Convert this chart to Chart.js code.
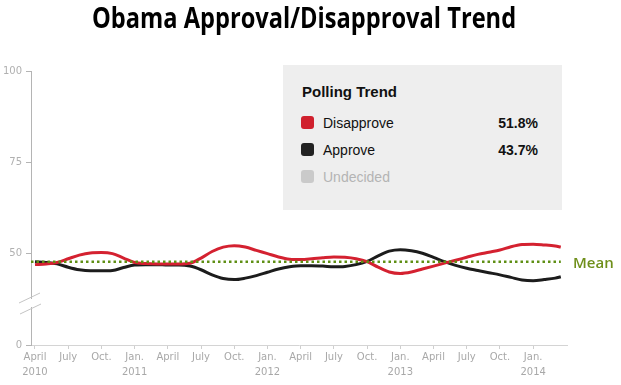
<!DOCTYPE html>
<html>
<head>
<meta charset="utf-8">
<script src="https://cdn.jsdelivr.net/npm/chart.js@4.4.1/dist/chart.umd.min.js"></script>
<style>
  html, body { margin: 0; padding: 0; background: #fff; }
  #wrap { position: relative; width: 621px; height: 385px; overflow: hidden; }
  #chart { position: absolute; left: 0; top: 0; }
  #title { position: absolute; left: -6px; top: -3px; width: 621px; text-align: center;
    font-family: 'Open Sans', sans-serif; font-weight: 700; font-size: 29px; color: #000; white-space: nowrap; }
  #title span { display: inline-block; transform-origin: center; }
  #legend { position: absolute; left: 283px; top: 65px; width: 279px; height: 145px; background: #eeeeee;
    font-family: 'Liberation Sans', Arial, sans-serif; }
  #legend .head { position: absolute; left: 19px; top: 18px; font-weight: 700; font-size: 15px; color: #111; }
  #legend .row { position: absolute; left: 18px; width: 237px; height: 16px; font-size: 14px; line-height: 16px; }
  #legend .sw { position: absolute; left: 0; top: 1px; width: 13px; height: 13px; border-radius: 3px; }
  #legend .lbl { position: absolute; left: 22px; top: 0; }
  #legend .val { position: absolute; right: 0; top: 0; font-weight: 700; }
  #mean { position: absolute; left: 573px; top: 252px; font-family: 'Open Sans', sans-serif; font-weight: 600;
    font-size: 15px; color: #6f8f1a; }
</style>
</head>
<body>
<div id="wrap">
  <canvas id="chart" width="621" height="385"></canvas>
  <div id="title"><span>Obama Approval/Disapproval Trend</span></div>
  <div id="legend">
    <div class="head">Polling Trend</div>
    <div class="row" style="top:50px;color:#111"><div class="sw" style="background:#d0202d"></div><div class="lbl">Disapprove</div><div class="val">51.8%</div></div>
    <div class="row" style="top:77px;color:#111"><div class="sw" style="background:#222"></div><div class="lbl">Approve</div><div class="val">43.7%</div></div>
    <div class="row" style="top:104px;color:#b4b4b4"><div class="sw" style="background:#cacaca"></div><div class="lbl">Undecided</div></div>
  </div>
  <div id="mean">Mean</div>
</div>
<script>
// months counted from April 2010 (0)
var months = [0, 1, 2, 3, 4, 5, 6, 7, 8, 9, 10, 11, 12, 13, 14, 15, 16, 17, 18, 19, 20, 21, 22, 23,
  24, 25, 26, 27, 28, 29, 30, 31, 32, 33, 34, 35, 36, 37, 38, 39, 40, 41, 42, 43, 44, 45, 46, 47, 47.5];
var disapprove = [47.0, 47.2, 47.6, 48.6, 49.6, 50.2, 50.3, 50.0, 48.8, 47.6, 47.3, 47.2,
  47.2, 47.2, 47.4, 48.8, 50.6, 51.8, 52.2, 51.8, 50.9, 50.0, 49.1, 48.5,
  48.4, 48.6, 48.9, 49.1, 49.0, 48.6, 47.8, 46.3, 45.0, 44.6, 45.0, 45.8,
  46.6, 47.4, 48.2, 49.0, 49.8, 50.4, 51.0, 51.9, 52.5, 52.6, 52.4, 52.1, 51.8];
var approve = [47.8, 47.6, 47.2, 46.3, 45.6, 45.3, 45.3, 45.4, 46.2, 46.9, 47.0, 47.0,
  46.9, 46.9, 46.6, 45.6, 44.2, 43.2, 42.9, 43.3, 44.0, 44.9, 45.8, 46.4,
  46.7, 46.7, 46.6, 46.4, 46.5, 47.0, 47.9, 49.4, 50.7, 51.1, 50.8, 50.1,
  49.0, 47.8, 46.8, 46.0, 45.4, 44.8, 44.2, 43.5, 42.8, 42.6, 42.9, 43.3, 43.7];
var meanValue = 47.8;
var xMin = -0.36, xMax = 48.06;

var tickMonths = [0, 3, 6, 9, 12, 15, 18, 21, 24, 27, 30, 33, 36, 39, 42, 45];
var tickLabels = [['April', '2010'], 'July', 'Oct.', ['Jan.', '2011'], 'April', 'July', 'Oct.', ['Jan.', '2012'],
  'April', 'July', 'Oct.', ['Jan.', '2013'], 'April', 'July', 'Oct.', ['Jan.', '2014']];
// broken axis: bottom tick stands for 0
var yTickValues = [25, 50, 75, 100];
var yTickLabels = ['0', '50', '75', '100'];

function pts(vals) {
  return vals.map(function(v, i) { return { x: months[i], y: v }; });
}

var breakMarks = {
  id: 'breakMarks',
  afterDraw: function(chart) {
    var c = chart.ctx;
    c.save();
    c.fillStyle = '#fff';
    c.fillRect(28, 299, 6, 8);
    c.strokeStyle = '#c4c4c4';
    c.lineWidth = 1;
    c.beginPath();
    c.moveTo(19, 303); c.lineTo(40, 293);
    c.moveTo(20, 314); c.lineTo(41, 304);
    c.stroke();
    c.restore();
  }
};

new Chart(document.getElementById('chart'), {
  type: 'line',
  data: {
    datasets: [
      {
        label: 'Mean',
        data: [{ x: xMin, y: meanValue }, { x: 47.5, y: meanValue }],
        borderColor: '#5f8f14',
        borderWidth: 2.5,
        borderDash: [2.5, 3],
        pointRadius: 0,
        tension: 0
      },
      {
        label: 'Disapprove',
        data: pts(disapprove),
        borderColor: '#d42130',
        borderWidth: 3,
        pointRadius: 0,
        cubicInterpolationMode: 'monotone'
      },
      {
        label: 'Approve',
        data: pts(approve),
        borderColor: '#1c1c1c',
        borderWidth: 3,
        pointRadius: 0,
        cubicInterpolationMode: 'monotone'
      }
    ]
  },
  options: {
    responsive: false,
    animation: false,
    events: [],
    layout: { padding: { top: 71, right: 54, left: 0, bottom: 0 } },
    plugins: { legend: { display: false }, tooltip: { enabled: false }, title: { display: false } },
    scales: {
      x: {
        type: 'linear',
        min: xMin,
        max: xMax,
        afterFit: function(s) { s.height = 40; },
        afterBuildTicks: function(s) { s.ticks = tickMonths.map(function(v) { return { value: v }; }); },
        ticks: {
          autoSkip: false,
          maxRotation: 0,
          padding: 1,
          color: '#a8a8a8',
          font: { family: 'DejaVu Sans', size: 10, lineHeight: 1.5 },
          callback: function(v) { return tickLabels[tickMonths.indexOf(v)]; }
        },
        grid: { display: true, drawOnChartArea: false, tickLength: 4, color: '#cfcfcf' },
        border: { color: '#d4d4d4' }
      },
      y: {
        min: 25,
        max: 100,
        afterFit: function(s) { s.width = 31; },
        afterBuildTicks: function(s) { s.ticks = yTickValues.map(function(v) { return { value: v }; }); },
        ticks: {
          padding: 4,
          color: '#b0b0b0',
          font: { family: 'DejaVu Sans', size: 10 },
          callback: function(v) { return yTickLabels[yTickValues.indexOf(v)]; }
        },
        grid: { display: true, drawOnChartArea: false, tickLength: 5, color: '#b4b4b4' },
        border: { color: '#b4b4b4' }
      }
    }
  },
  plugins: [breakMarks]
});

// squeeze the title to the reference width
var t = document.querySelector('#title span');
t.style.transform = 'scaleX(' + (424 / t.offsetWidth) + ')';
</script>
</body>
</html>
